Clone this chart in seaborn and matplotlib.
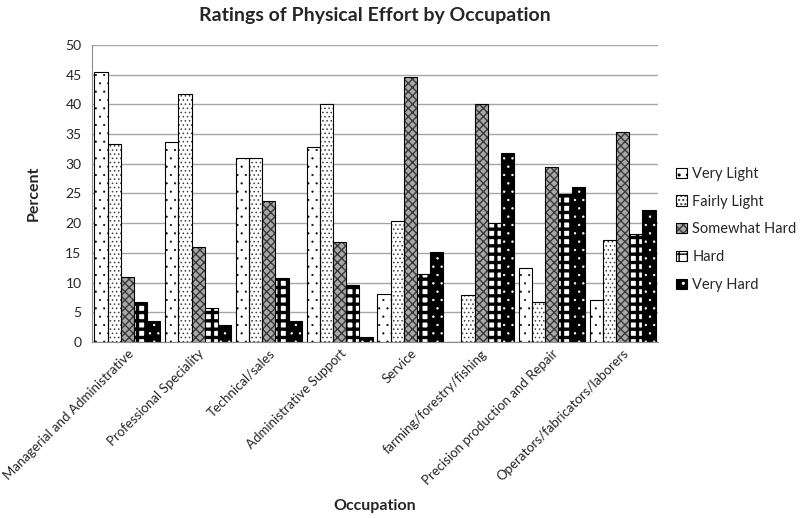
import numpy as np
import pandas as pd
import matplotlib.pyplot as plt
import seaborn as sns
from matplotlib.patches import Rectangle

# data
occupations = ['Managerial and Administrative', 'Professional Speciality', 'Technical/sales',
               'Administrative Support', 'Service', 'farming/forestry/fishing',
               'Precision production and Repair', 'Operators/fabricators/laborers']
ratings = ['Very Light', 'Fairly Light', 'Somewhat Hard', 'Hard', 'Very Hard']
very_light = [45.4, 33.6, 30.9, 32.8, 8.1, 0.0, 12.5, 7.0]
fairly_light = [33.3, 41.7, 30.9, 40.0, 20.3, 7.9, 6.8, 17.1]
somewhat_hard = [10.9, 15.9, 23.7, 16.8, 44.7, 40.0, 29.5, 35.3]
hard = [6.7, 5.7, 10.7, 9.5, 11.5, 20.0, 24.9, 18.1]
very_hard = [3.6, 2.8, 3.5, 0.8, 15.1, 31.9, 26.1, 22.2]

values = [very_light, fairly_light, somewhat_hard, hard, very_hard]
dados = pd.DataFrame({
    'occupation': occupations * len(ratings),
    'rating': [r for r in ratings for _ in occupations],
    'percent': [v for serie in values for v in serie],
})

# estilo de cada serie: cor de fundo, hachura, cor da hachura, espessura
faces = ['white', 'white', '#a8a8a8', 'white', 'black']
hatches = ['..', '....', 'xxxx', '++', '..']
hatch_cols = ['black', '#404040', '#3a3a3a', 'black', 'white']
hatch_lw = [0.3, 0.6, 1.0, 2.4, 0.5]

sns.set_style('white')
plt.rcParams['font.family'] = ['Lato', 'DejaVu Sans']


def estilo(p, i):
    p.set_facecolor(faces[i])
    p.set_hatch(hatches[i])
    p.set_edgecolor(hatch_cols[i])
    p.set_linewidth(0)
    if hasattr(p, 'set_hatch_linewidth'):
        p.set_hatch_linewidth(hatch_lw[i])


fig = plt.figure(figsize=(8, 5.18), dpi=100)
ax = fig.add_axes([0.115, 0.34, 0.7075, 0.573])

sns.barplot(data=dados, x='occupation', y='percent', hue='rating', hue_order=ratings,
            palette=faces, width=0.93, gap=0, errorbar=None, legend=False, ax=ax)

for i, cont in enumerate(ax.containers):
    for bar in cont:
        estilo(bar, i)
        ax.add_patch(Rectangle(bar.get_xy(), bar.get_width(), bar.get_height(),
                               fill=False, edgecolor='black', linewidth=0.8, zorder=3))

ax.set_ylim(0, 50)
ax.set_xlim(-0.5, len(occupations) - 0.5)
ax.set_yticks(range(0, 51, 5))
ax.yaxis.grid(True, color='#a6a6a6', linewidth=1)
ax.set_axisbelow(True)
for s in ['top', 'right']:
    ax.spines[s].set_visible(False)
for s in ['left', 'bottom']:
    ax.spines[s].set_color('#8c8c8c')
ax.set_xticks(np.arange(-0.5, len(occupations)), minor=True)
ax.tick_params(axis='x', which='major', length=0, pad=4)
ax.tick_params(axis='x', which='minor', length=5, color='#8c8c8c')
ax.tick_params(axis='y', length=4, color='#8c8c8c', labelsize=10)
ax.set_xticks(range(len(occupations)))
ax.set_xticklabels(occupations, rotation=45, ha='right', rotation_mode='anchor', fontsize=9.5)

ax.set_title('Ratings of Physical Effort by Occupation', fontsize=14, fontweight='bold', pad=17)
ax.set_xlabel('Occupation', fontsize=11.5, fontweight='bold')
ax.xaxis.set_label_coords(0.5, -0.53)
ax.set_ylabel('Percent', fontsize=11.5, fontweight='bold', labelpad=18)

handles = []
for i in range(len(ratings)):
    h = Rectangle((0, 0), 1, 1)
    estilo(h, i)
    borda = Rectangle((0, 0), 1, 1, fill=False, edgecolor='black', linewidth=0.8)
    handles.append((h, borda))
fig.legend(handles, ratings, loc='center left', bbox_to_anchor=(0.829, 0.557), frameon=False,
           handlelength=0.7, handleheight=0.7, handletextpad=0.4, labelspacing=0.95, fontsize=10.5)

plt.savefig('out.png', dpi=100)
